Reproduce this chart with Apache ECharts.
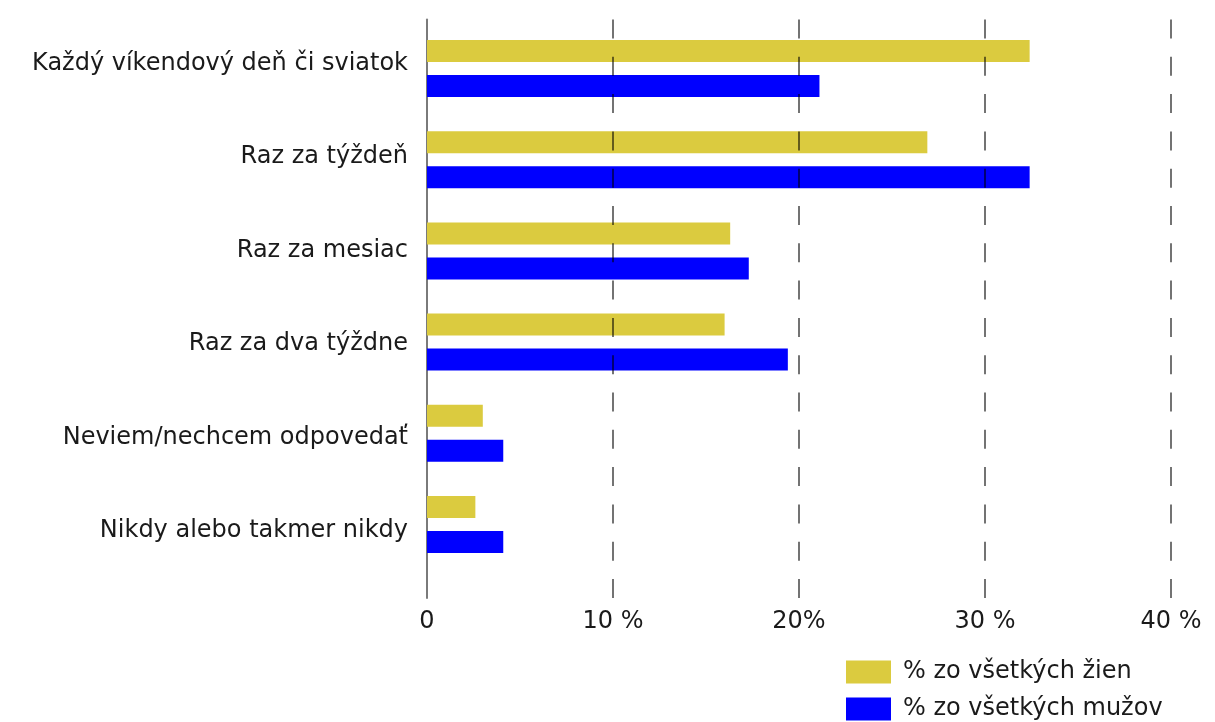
<!DOCTYPE html>
<html>
<head>
<meta charset="utf-8">
<script src="https://cdn.jsdelivr.net/npm/echarts@6/dist/echarts.min.js"></script>
<style>
  html, body { margin: 0; padding: 0; background: #fff; }
  #chart { width: 1215px; height: 722px; }
</style>
</head>
<body>
<div id="chart"></div>
<script>
const categories = [
  'Každý víkendový deň či sviatok',
  'Raz za týždeň',
  'Raz za mesiac',
  'Raz za dva týždne',
  'Neviem/nechcem odpovedať',
  'Nikdy alebo takmer nikdy',
];
const women = [32.4, 26.9, 16.3, 16.0, 3.0, 2.6];
const men = [21.1, 32.4, 17.3, 19.4, 4.1, 4.1];
const tickLabels = ['0', '10 %', '20%', '30 %', '40 %'];
const seriesNames = ['% zo všetkých žien', '% zo všetkých mužov'];

const FONT = '"DejaVu Sans", sans-serif';
const chart = echarts.init(document.getElementById('chart'));

const hiddenX = (i) => ({ gridIndex: i, type: 'value', min: 0, max: 40, show: false });
const legendItem = (name, top) => ({
  left: 846,
  top: top,
  padding: 0,
  icon: 'rect',
  itemWidth: 45,
  itemHeight: 23,
  data: [name],
  textStyle: { fontFamily: FONT, fontSize: 24, color: '#1a1a1a', padding: [0, 0, 0, 7] },
});

chart.setOption({
  animation: false,
  textStyle: { fontFamily: FONT },
  grid: [
    // frame: gridlines + tick labels
    { left: 427, right: 44, top: 19.5, height: 578.5 },
    // bars
    { left: 427, right: 44, top: 23, height: 547 },
    // category labels
    { left: 427, right: 44, top: 17, height: 560.4 },
  ],
  legend: [
    legendItem(seriesNames[0], 660),
    legendItem(seriesNames[1], 697),
  ],
  xAxis: [
    {
      gridIndex: 0,
      type: 'value',
      min: 0,
      max: 40,
      interval: 10,
      z: 10,
      axisLine: { show: false },
      axisTick: { show: false },
      axisLabel: {
        margin: 12,
        fontFamily: FONT,
        fontSize: 24,
        color: '#1a1a1a',
        formatter: (v) => tickLabels[Math.round(v / 10)],
      },
      splitLine: {
        show: true,
        showMinLine: false,
        lineStyle: { color: 'rgba(0,0,0,0.55)', width: 2, type: [19, 18.3] },
      },
    },
    hiddenX(1),
    hiddenX(2),
  ],
  yAxis: [
    {
      gridIndex: 0,
      type: 'value',
      min: 0,
      max: 1,
      axisLine: { show: true, lineStyle: { color: '#7a7a7a', width: 2 } },
      axisTick: { show: false },
      axisLabel: { show: false },
      splitLine: { show: false },
    },
    {
      gridIndex: 1,
      type: 'category',
      inverse: true,
      data: categories,
      show: false,
    },
    {
      gridIndex: 2,
      type: 'category',
      inverse: true,
      data: categories,
      axisLine: { show: false },
      axisTick: { show: false },
      axisLabel: {
        margin: 19,
        fontFamily: FONT,
        fontSize: 24,
        color: '#1a1a1a',
      },
    },
  ],
  series: [
    {
      name: seriesNames[0],
      type: 'bar',
      xAxisIndex: 1,
      yAxisIndex: 1,
      data: women,
      barWidth: 22,
      barGap: '59%',
      itemStyle: { color: '#dbcb3f' },
    },
    {
      name: seriesNames[1],
      type: 'bar',
      xAxisIndex: 1,
      yAxisIndex: 1,
      data: men,
      barWidth: 22,
      barGap: '59%',
      itemStyle: { color: '#0000ff' },
    },
  ],
});
</script>
</body>
</html>
